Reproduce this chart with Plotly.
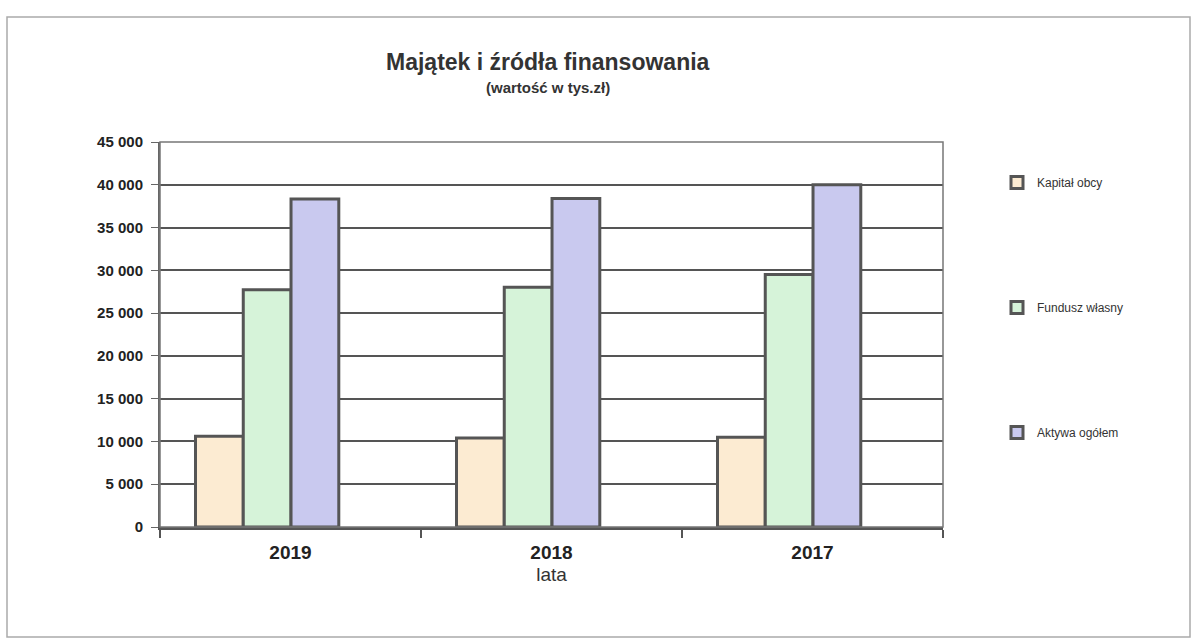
import plotly.graph_objects as go

years = ["2019", "2018", "2017"]
kapital_obcy = [10600, 10400, 10500]
fundusz_wlasny = [27730, 28020, 29500]
aktywa_ogolem = [38350, 38400, 40000]
series_names = ["Kapitał obcy", "Fundusz własny", "Aktywa ogółem"]
colors = ["#fcebd2", "#d6f3d9", "#c9c9ef"]
y_ticks = [0, 5000, 10000, 15000, 20000, 25000, 30000, 35000, 40000, 45000]
y_tick_text = ["0", "5 000", "10 000", "15 000", "20 000", "25 000", "30 000", "35 000", "40 000", "45 000"]

W, H = 1195, 642
L, R, T, B = 160, 943, 142, 527

BAR_W = 0.183
OFFSETS = [-0.364, -0.181, 0.002]

fig = go.Figure()
for i, (name, vals) in enumerate(zip(series_names, [kapital_obcy, fundusz_wlasny, aktywa_ogolem])):
    fig.add_trace(go.Bar(
        x=years, y=vals, name=name, legendgroup=name,
        width=BAR_W, offset=OFFSETS[i],
        marker=dict(color=colors[i], line=dict(color="#555555", width=3)),
    ))

def px_x(p):
    return (p - L) / (R - L)

def px_y(p):
    return (B - p) / (B - T)

fig.update_layout(
    width=W, height=H,
    margin=dict(l=L, r=W - R, t=T, b=H - B),
    paper_bgcolor="white", plot_bgcolor="white",
    barmode="overlay",
    font=dict(family="Arial, Liberation Sans, sans-serif", color="#222222"),
    showlegend=True,
    legend=dict(
        x=px_x(997), y=px_y(168), xanchor="left", yanchor="top",
        font=dict(size=12, color="#333333"),
        tracegroupgap=106, traceorder="grouped",
        itemwidth=30, bgcolor="rgba(0,0,0,0)",
    ),
    xaxis=dict(
        showline=True, linecolor="#555555", linewidth=3, mirror=False,
        ticks="outside", ticklen=8, tickwidth=2, tickcolor="#555555",
        tickson="boundaries", ticklabelstandoff=6,
        tickfont=dict(size=19, color="#222222"),
        title=dict(text="lata", font=dict(size=19, color="#333333"), standoff=6),
    ),
    yaxis=dict(
        range=[0, 45000], tickvals=y_ticks,
        ticktext=["<b>" + t + "</b>" for t in y_tick_text],
        showgrid=True, gridcolor="#555555", gridwidth=1.5,
        showline=True, linecolor="#666666", linewidth=2,
        ticks="outside", ticklen=7, tickcolor="#666666",
        ticklabelstandoff=5,
        tickfont=dict(size=15, color="#222222"),
        zeroline=False,
    ),
    annotations=[
        dict(text="<b>Majątek i źródła finansowania</b>", x=px_x(548), y=px_y(62),
             xref="paper", yref="paper", xanchor="center", yanchor="middle",
             showarrow=False, font=dict(size=23, color="#333333")),
        dict(text="<b>(wartość w tys.zł)</b>", x=px_x(548), y=px_y(88),
             xref="paper", yref="paper", xanchor="center", yanchor="middle",
             showarrow=False, font=dict(size=15, color="#333333")),
    ],
    shapes=[
        dict(type="rect", xref="paper", yref="paper",
             x0=px_x(7), x1=px_x(1190), y0=px_y(637), y1=px_y(17),
             line=dict(color="#aaaaaa", width=1.5), layer="below"),
        dict(type="rect", xref="paper", yref="paper",
             x0=0, x1=1, y0=0, y1=1,
             line=dict(color="#777777", width=1.5)),
    ],
)
fig.update_xaxes(tickprefix="<b>", ticksuffix="</b>")

fig.write_html("out.html")
